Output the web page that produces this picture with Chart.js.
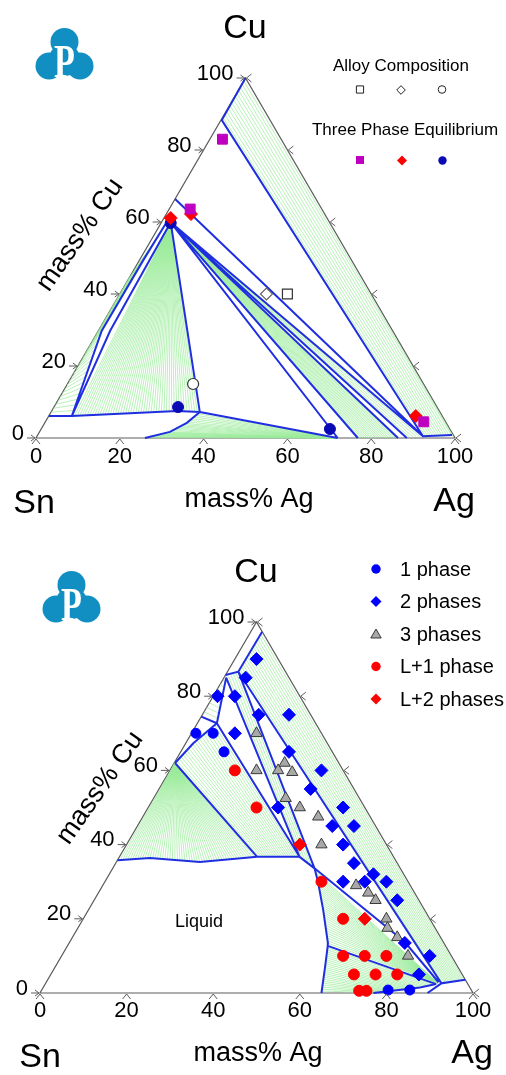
<!DOCTYPE html>
<html>
<head>
<meta charset="utf-8">
<script src="https://cdn.jsdelivr.net/npm/chart.js@4.4.1/dist/chart.umd.min.js"></script>
<style>
  html, body { margin: 0; padding: 0; background: #fff; }
  canvas { display: block; }
</style>
</head>
<body>
<canvas id="topChart" width="506" height="540"></canvas>
<canvas id="bottomChart" width="506" height="535"></canvas>
<script>
// all compositions are [mass% Ag, mass% Cu] (Sn = balance)
const tickValues = [0, 20, 40, 60, 80, 100];

// ---------- upper diagram ----------
const topAlloySquare = [[40, 40]];
const topAlloyDiamond = [[35, 40]];
const topAlloyCircle = [[30, 15]];
const topTriMagenta = [[3, 83], [5, 63.6], [90.3, 4.5]];
const topTriRed = [[1.6, 61.1], [5.9, 62.2], [87.6, 6.1]];
const topTriBlue = [[2.3, 59.7], [29.6, 8.6], [68.9, 2.5]];

const topCu3Sn = [2.2, 59.9];
const topAg3Sn = [72, 0];
const topLiqUpper = [[0, 6.1], [5.5, 6.1], [19, 6.9], [29.9, 7.5], [35.5, 7.2]];
const topLiqLower = [[35.5, 7.2], [33.9, 4.2], [31.1, 1.7], [26, 0]];
const topQ1 = [[5.5, 6.1], [0.8, 29.8], [0.9, 49.2], [1.2, 59.5]];
const topQ2 = [[5.5, 6.1], [2.8, 29.8], topCu3Sn];

const topBlue = [
  [[0, 100], [0.2, 88.3], [92.1, 0.5], [98.9, 0.8]],
  [[0, 66.4], [92.1, 0.5]],
  [topCu3Sn, [92.1, 0.5]],
  [topCu3Sn, [88.5, 0]],
  [topCu3Sn, [86.4, 0]],
  [topCu3Sn, [76.8, 0]],
  [topCu3Sn, topAg3Sn],
  [topCu3Sn, [35.5, 7.2]],
  [[35.5, 7.2], topAg3Sn],
  topLiqUpper, topLiqLower, topQ1, topQ2
];

const topTies = [
  { from: [[0, 88.3], [0, 100]], to: [[92.1, 0.5], [98.9, 0.8], [100, 0]], n: 14 },
  { from: [[0, 6.1], [0, 45]], to: topQ1, n: 36 },
  { from: [topCu3Sn], to: [[5.5, 6.1], [19, 6.9], [29.9, 7.5], [35.5, 7.2]], n: 50 },
  { from: [topAg3Sn], to: topLiqLower, n: 24 },
  { from: [topCu3Sn], to: [[76.8, 0], [86.4, 0]], n: 22 },
  { from: [topCu3Sn], to: [[88.5, 0], [92.1, 0.5]], n: 5 }
];

// ---------- lower diagram ----------
const onePhase = [[1, 70], [5, 70], [10, 65], [80, 0.8], [85, 0.8]];
const twoPhases = [[5, 90], [5, 85], [1, 80], [5, 80], [13, 75], [20, 75], [10, 70], [25, 65],
  [35, 60], [35, 55], [30, 50], [45, 50], [45, 45], [50, 45], [50, 40], [55, 35], [55, 30],
  [60, 30], [61, 32], [65, 30], [70, 25], [77.5, 13.5], [85, 10], [85, 5]];
const threePhases = [[15, 70], [25.5, 62], [20, 60], [25, 60], [28.5, 59.5], [30.5, 52.5], [35, 50],
  [40.5, 47.5], [45, 40], [58.5, 29], [62.3, 27], [65, 25], [70, 20], [71.5, 17.5], [75, 15], [80, 10]];
const liqOnePhase = [[15, 60], [25, 50], [50, 30], [60, 20], [65, 10], [70, 10], [75, 10],
  [70, 5], [75, 5], [80, 5], [73.4, 0.6], [75.1, 0.6]];
const liqTwoPhases = [[40, 40], [65, 20]];

const botLiqTop = [[0, 35.8], [7.2, 36.4], [19.3, 35.3], [31.8, 36.7], [41.6, 36.7], [46.6, 33.6]];
const botLiqRight = [[46.6, 33.6], [49.2, 30], [54.2, 22.4], [59.8, 13.4], [60.1, 12.7], [62.3, 7.1], [65, 0]];

const botBlue = [
  [[2.6, 97.4], [2.5, 86.6], [0, 85.7]],
  [[2.5, 86.6], [91.4, 2.6], [96.4, 3.6]],
  [[91.4, 2.6], [89.5, 0]],
  [[0.5, 85], [41.6, 36.7]],
  [[2.5, 86.6], [46.6, 33.6]],
  [[0, 74.5], [4.5, 72.7], [0.5, 85]],
  [[4.5, 72.7], [41.6, 36.7]],
  [[0.2, 62], [1.75, 67.3], [4.5, 72.7]],
  [[0.2, 62], [31.8, 36.7]],
  botLiqTop, botLiqRight,
  [[46.6, 33.6], [77.3, 13.8], [90.6, 2.9]],
  [[60.1, 12.7], [90.3, 2.4]],
  [[77, 0], [87, 1.5], [90.3, 2.4]]
];

const botTies = [
  { from: [[2.5, 86.6], [2.6, 97.4]], to: [[91.4, 2.6], [96.4, 3.6]], n: 16 },
  { from: [[0.5, 85], [2.5, 86.6]], to: [[41.6, 36.7], [46.6, 33.6]], n: 5 },
  { from: [[0, 74.5], [0, 85.7]], to: [[4.5, 72.7], [0.5, 85]], n: 9 },
  { from: [[0.2, 62], [1.75, 67.3], [4.5, 72.7]], to: [[31.8, 36.7], [41.6, 36.7]], n: 20 },
  { from: [[0.2, 62]], to: [[0, 35.8], [7.2, 36.4], [19.3, 35.3], [31.8, 36.7]], n: 56 },
  { from: [[90.5, 2.7]], to: [[46.6, 33.6], [49.2, 30], [54.2, 22.4], [59.8, 13.4], [60.1, 12.7]], n: 30 },
  { from: [[60.1, 12.7], [62.3, 7.1], [65, 0]], to: [[90.3, 2.4], [87, 1.5], [77, 0]], n: 24 }
];

// ---------- helpers ----------
const FONT = '"Liberation Sans", Arial, sans-serif';
const H = Math.sqrt(3) / 2;
const BLUE = '#1f2fe0';
const GREEN = '#9aeb9a';
const EDGE = '#5c5c5c';
const GAP = { x: null, y: null };

function P(p) { return { x: p[0] + p[1] / 2, y: p[1] * H }; }

function along(poly, t) {
  if (poly.length === 1) return poly[0];
  const lens = [];
  let total = 0;
  for (let i = 1; i < poly.length; i++) {
    const a = P(poly[i - 1]), b = P(poly[i]);
    const d = Math.hypot(b.x - a.x, b.y - a.y);
    lens.push(d); total += d;
  }
  let s = t * total;
  for (let i = 0; i < lens.length; i++) {
    if (s <= lens[i] || i === lens.length - 1) {
      const f = lens[i] ? Math.min(1, s / lens[i]) : 0;
      return [poly[i][0] + (poly[i + 1][0] - poly[i][0]) * f, poly[i][1] + (poly[i + 1][1] - poly[i][1]) * f];
    }
    s -= lens[i];
  }
}

function tieData(regions) {
  const out = [];
  regions.forEach(r => {
    for (let i = 1; i < r.n; i++) {
      out.push(P(along(r.from, i / r.n)), P(along(r.to, i / r.n)), GAP);
    }
  });
  return out;
}

function polyData(list) {
  const out = [];
  list.forEach(l => { l.forEach(p => out.push(P(p))); out.push(GAP); });
  return out;
}

function lineSet(data, color, width, order) {
  return { data, showLine: true, borderColor: color, borderWidth: width, pointRadius: 0,
    pointHoverRadius: 0, spanGaps: false, clip: false, order, fill: false };
}

function markSet(list, style, radius, bg, border, bw) {
  return { data: list.map(P), showLine: false, pointStyle: style, pointRadius: radius,
    pointHoverRadius: radius, backgroundColor: bg, borderColor: border, borderWidth: bw, clip: false, order: 0 };
}

function pix(chart, ag, cu) {
  const q = P([ag, cu]);
  return { x: chart.scales.x.getPixelForValue(q.x), y: chart.scales.y.getPixelForValue(q.y) };
}

function text(ctx, s, x, y, size, align, base, rot) {
  ctx.save();
  ctx.font = size + 'px ' + FONT;
  ctx.fillStyle = '#000';
  ctx.textAlign = align || 'center';
  ctx.textBaseline = base || 'alphabetic';
  ctx.translate(x, y);
  if (rot) ctx.rotate(rot);
  ctx.fillText(s, 0, 0);
  ctx.restore();
}

function shape(ctx, kind, x, y, r, fill, stroke) {
  ctx.save();
  ctx.beginPath();
  if (kind === 'circle') ctx.arc(x, y, r, 0, Math.PI * 2);
  if (kind === 'rect') ctx.rect(x - r, y - r, 2 * r, 2 * r);
  if (kind === 'diamond') { ctx.moveTo(x, y - r); ctx.lineTo(x + r, y); ctx.lineTo(x, y + r); ctx.lineTo(x - r, y); ctx.closePath(); }
  if (kind === 'triangle') { ctx.moveTo(x, y - r); ctx.lineTo(x + r * 0.87, y + r * 0.5); ctx.lineTo(x - r * 0.87, y + r * 0.5); ctx.closePath(); }
  ctx.fillStyle = fill; ctx.fill();
  if (stroke) { ctx.strokeStyle = stroke; ctx.lineWidth = 1; ctx.stroke(); }
  ctx.restore();
}

function drawLogo(ctx, x0, y0) {
  ctx.save();
  ctx.fillStyle = '#118fc2';
  [[28.5, 14, 14], [13, 38, 13.5], [44, 38, 13.5], [28.5, 32, 16]].forEach(c => {
    ctx.beginPath(); ctx.arc(x0 + c[0], y0 + c[1], c[2], 0, Math.PI * 2); ctx.fill();
  });
  ctx.fillStyle = '#fff';
  ctx.font = 'bold 36px "Liberation Serif", "DejaVu Serif", serif';
  ctx.textAlign = 'center';
  ctx.textBaseline = 'alphabetic';
  ctx.translate(x0 + 28.5, y0 + 49);
  ctx.scale(0.95, 1.3);
  ctx.fillText('P', 0, 0);
  ctx.restore();
}

function decorPlugin(cfg) {
  return {
    id: 'decor',
    beforeDatasetsDraw(chart) {
      const ctx = chart.ctx;
      const a = pix(chart, 0, 0), b = pix(chart, 100, 0), c = pix(chart, 0, 100);
      ctx.save();
      ctx.strokeStyle = EDGE; ctx.lineWidth = 1.2;
      ctx.beginPath(); ctx.moveTo(a.x, a.y); ctx.lineTo(b.x, b.y); ctx.lineTo(c.x, c.y); ctx.closePath(); ctx.stroke();
      ctx.restore();
    },
    afterDraw(chart) {
      const ctx = chart.ctx;
      ctx.save();
      ctx.strokeStyle = EDGE; ctx.lineWidth = 1;
      tickValues.forEach(v => {
        // bottom (Ag)
        let p = pix(chart, v, 0);
        ctx.beginPath(); ctx.moveTo(p.x - 4, p.y + 6); ctx.lineTo(p.x, p.y + 1); ctx.lineTo(p.x + 4, p.y + 6); ctx.stroke();
        text(ctx, String(v), p.x, p.y + cfg.bottomLabelDy, 22, 'center', 'middle');
        // left (Cu)
        p = pix(chart, 0, v);
        ctx.beginPath(); ctx.moveTo(p.x - 9, p.y); ctx.lineTo(p.x - 1, p.y);
        ctx.moveTo(p.x - 5, p.y - 3); ctx.lineTo(p.x - 1, p.y); ctx.lineTo(p.x - 5, p.y + 3); ctx.stroke();
        text(ctx, String(v), p.x - 12, p.y - 4.5, 22, 'right', 'middle');
        // right (Sn)
        p = pix(chart, 100 - v, v);
        ctx.beginPath(); ctx.moveTo(p.x + 6, p.y - 4); ctx.lineTo(p.x + 1, p.y); ctx.lineTo(p.x + 6, p.y + 4); ctx.stroke();
      });
      ctx.restore();
      cfg.texts.forEach(t => text(ctx, t[0], t[1], t[2], t[3], 'center', t[5] || 'alphabetic', t[4]));
      cfg.legend(ctx);
      drawLogo(ctx, cfg.logo[0], cfg.logo[1]);
    }
  };
}

function makeChart(id, datasets, padding, cfg) {
  return new Chart(document.getElementById(id), {
    type: 'scatter',
    data: { datasets },
    options: {
      responsive: false, animation: false, devicePixelRatio: 1, events: [],
      layout: { padding },
      scales: {
        x: { type: 'linear', min: 0, max: 100, display: false },
        y: { type: 'linear', min: 0, max: 100 * H, display: false }
      },
      plugins: { legend: { display: false }, tooltip: { enabled: false } }
    },
    plugins: [decorPlugin(cfg)]
  });
}

// ---------- upper chart ----------
makeChart('topChart', [
  markSet(topAlloySquare, 'rect', 7, '#fff', '#333', 1.2),
  markSet(topAlloyDiamond, 'rectRot', 6, '#fff', '#666', 1.2),
  markSet(topAlloyCircle, 'circle', 5.5, '#fff', '#333', 1.2),
  markSet(topTriMagenta, 'rect', 7, '#c000c0', '#c000c0', 1),
  markSet(topTriRed, 'rectRot', 6.5, '#ff0000', '#ff0000', 1),
  markSet(topTriBlue, 'circle', 5.5, '#0a0ab4', '#0a0ab4', 1),
  lineSet(polyData(topBlue), BLUE, 2, 1),
  lineSet(tieData(topTies), GREEN, 0.7, 2)
], { left: 36, right: 51, top: 78, bottom: 102 }, {
  bottomLabelDy: 19,
  logo: [36, 28],
  texts: [
    ['Cu', 245, 38, 34], ['Sn', 34, 513, 34], ['Ag', 454, 511, 34],
    ['mass% Ag', 249, 507, 27], ['mass% Cu', 80, 235, 27, -55 * Math.PI / 180, 'middle'],
    ['Alloy Composition', 401, 71, 17], ['Three Phase Equilibrium', 405, 135, 17]
  ],
  legend(ctx) {
    shape(ctx, 'rect', 360, 89.5, 3.6, '#fff', '#222');
    shape(ctx, 'diamond', 401, 90, 4.3, '#fff', '#222');
    shape(ctx, 'circle', 442, 89.5, 3.8, '#fff', '#222');
    shape(ctx, 'rect', 360, 160, 4, '#c000c0');
    shape(ctx, 'diamond', 402, 160.5, 5, '#ff0000');
    shape(ctx, 'circle', 442.5, 160.5, 4.2, '#0a0ab4');
  }
});

// ---------- lower chart ----------
makeChart('bottomChart', [
  markSet(onePhase, 'circle', 5, '#0000ff', '#0000ff', 1),
  markSet(twoPhases, 'rectRot', 6.5, '#0000ff', '#0000ff', 1),
  markSet(threePhases, 'triangle', 6.5, '#a8a8a8', '#3a3a3a', 1),
  markSet(liqOnePhase, 'circle', 5.5, '#ff0000', '#ff0000', 1),
  markSet(liqTwoPhases, 'rectRot', 6.5, '#ff0000', '#ff0000', 1),
  lineSet(polyData(botBlue), BLUE, 2, 1),
  lineSet(tieData(botTies), GREEN, 0.7, 2)
], { left: 40, right: 33, top: 82, bottom: 82 }, {
  bottomLabelDy: 18,
  logo: [43, 31],
  texts: [
    ['Cu', 256, 42, 34], ['Sn', 40, 527, 34], ['Ag', 472, 523, 34],
    ['mass% Ag', 258, 521, 27], ['mass% Cu', 100, 248, 27, -55 * Math.PI / 180, 'middle'],
    ['Liquid', 199, 382, 18, 0, 'middle']
  ],
  legend(ctx) {
    const rows = [['1 phase', 'circle', '#0000ff', 4.7], ['2 phases', 'diamond', '#0000ff', 5.5],
      ['3 phases', 'triangle', '#a8a8a8', 6], ['L+1 phase', 'circle', '#ff0000', 4.7], ['L+2 phases', 'diamond', '#ff0000', 5.5]];
    rows.forEach((r, i) => {
      const y = 29 + i * 32.5;
      shape(ctx, r[1], 376, y + (r[1] === 'triangle' ? 1 : 0), r[3], r[2], r[1] === 'triangle' ? '#3a3a3a' : null);
      text(ctx, r[0], 400, y + 1, 20, 'left', 'middle');
    });
  }
});
</script>
</body>
</html>
